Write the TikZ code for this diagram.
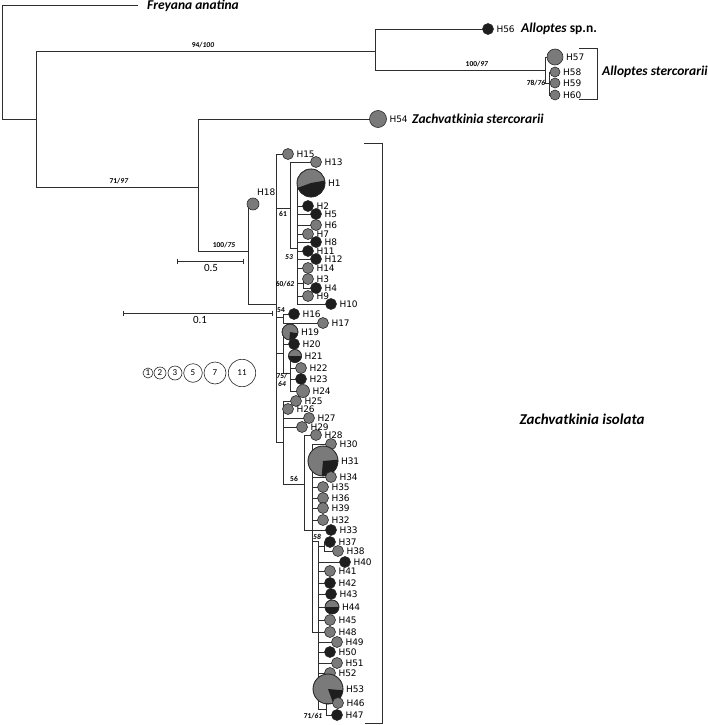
\documentclass[tikz,border=0pt]{standalone}
\usepackage{fontspec}
\setmainfont{Carlito}
\newfontfamily\hf{DejaVu Sans}
\definecolor{grayc}{HTML}{7A7A7A}
\definecolor{blackc}{HTML}{1E1E1E}
\definecolor{linec}{HTML}{2E2E2E}
\definecolor{circc}{HTML}{2A2A2A}
\tikzset{
  br/.style={draw=linec, line width=0.8pt},
  hapc/.style={circle, draw=circc, line width=0.6pt, inner sep=0pt},
  gr/.style={fill=grayc},
  bk/.style={fill=blackc},
  hlab/.style={font=\hf\fontsize{9}{10}\selectfont, inner sep=0pt, anchor=west},
  spl/.style={font=\bfseries\itshape\fontsize{13.5}{15}\selectfont, inner sep=0pt},
  sup/.style={font=\bfseries\fontsize{7.5}{8}\selectfont, inner sep=0pt},
  lg/.style={circle, draw=circc, line width=0.6pt, inner sep=0pt, fill=white, font=\fontsize{9}{10}\selectfont},
}
% name, attach-x, y, circle-x, radius, fill style, label
\newcommand\hap[7]{%
  \coordinate (#1-b) at (#2,#3);
  \coordinate (#1-c) at (#4,#3);
  \draw[br] (#1-b) -- (#1-c);
  \node[hapc,#6,minimum size={2*#5pt}] (#1) at (#1-c) {};
  \node[hlab] (#1-l) at ([xshift=2.5pt]#1.east) {#7};
}
% name, radius, start angle, end angle (black sector)
\newcommand\piesec[4]{%
  \fill[blackc] (#1.center) -- ++(#3:#2pt) arc[start angle=#3, end angle=#4, radius=#2pt] -- cycle;
  \draw[circc, line width=0.6pt] (#1.center) circle[radius=#2pt];
}
\begin{document}
\begin{tikzpicture}[x=1pt,y=-1pt]
\useasboundingbox (0,0) rectangle (708,725);
% ---------------- backbone
\coordinate (root-t) at (2,5);
\coordinate (root-b) at (2,119);
\coordinate (n1) at (36,119);
\coordinate (n1-t) at (36,51);
\coordinate (n1-b) at (36,187);
\coordinate (fre) at (138,5);
\draw[br] (fre) -- (root-t) -- (root-b) -- (n1);
\draw[br] (n1-t) -- (n1-b);
\node[spl, anchor=west] (fre-l) at (147,6) {Freyana anatina};
% ---------------- Alloptes
\coordinate (al) at (375,51);
\coordinate (al-t) at (375,29);
\coordinate (al-b) at (375,70);
\draw[br] (n1-t) -- (al);
\draw[br] (al-t) -- (al-b);
\node[sup] (s1) at (203,45) {94/\textit{100}};
\hap{h56}{375}{29}{488}{5.5}{bk}{H56}
\node[spl, anchor=west] (al1-l) at (521,29) {Alloptes \upshape sp.n.};
\coordinate (as) at (545,70);
\coordinate (as-t) at (545,57);
\coordinate (as-b) at (545,83);
\coordinate (as2) at (549,83);
\coordinate (as2-t) at (549,72);
\coordinate (as2-b) at (549,95);
\draw[br] (al-b) -- (as);
\draw[br] (as-t) -- (as-b) -- (as2);
\draw[br] (as2-t) -- (as2-b);
\node[sup] (s2) at (477,64) {100/\textit{97}};
\node[sup] (s3) at (536,83) {78/\textit{76}};
\hap{h57}{545}{57}{555}{8}{gr}{H57}
\hap{h58}{549}{72}{555}{5}{gr}{H58}
\hap{h59}{549}{83}{555}{5}{gr}{H59}
\hap{h60}{549}{95}{555}{5}{gr}{H60}
\coordinate (bra-a) at (579,48);
\coordinate (bra-b) at (597,48);
\coordinate (bra-c) at (597,99);
\coordinate (bra-d) at (579,99);
\draw[br] (bra-a) -- (bra-b) -- (bra-c) -- (bra-d);
\node[spl, anchor=west] (al2-l) at (602,72) {Alloptes stercorarii};
% ---------------- Zachvatkinia
\coordinate (z) at (198,187);
\coordinate (z-t) at (198,119);
\coordinate (z-b) at (198,251);
\draw[br] (n1-b) -- (z);
\draw[br] (z-t) -- (z-b);
\node[sup] (s4) at (119,181) {71/\textit{97}};
\hap{h54}{198}{119}{378}{8.5}{gr}{H54}
\node[spl, anchor=west] (zs-l) at (412,119) {Zachvatkinia stercorarii};
\coordinate (zi) at (248,251);
\coordinate (zi-t) at (248,204);
\coordinate (zi-b) at (248,304);
\draw[br] (z-b) -- (zi);
\draw[br] (zi-t) -- (zi-b);
\node[sup] (s5) at (224,245) {100/\textit{75}};
\node[hapc,gr,minimum size=12pt] (h18) at (253,204) {};
\node[hlab] (h18-l) at (257,192) {H18};
% main clade A
\coordinate (a) at (276,304);
\coordinate (a-t) at (276,154);
\coordinate (a-b) at (276,442);
\draw[br] (zi-b) -- (a);
\draw[br] (a-t) -- (a-b);
\hap{h15}{276}{154}{288}{5.5}{gr}{H15}
% node 61
\coordinate (c61) at (290,208);
\coordinate (c61-t) at (290,162);
\coordinate (c61-b) at (290,248);
\draw[br] (276,208) -- (c61);
\draw[br] (c61-t) -- (c61-b);
\node[sup] (s61) at (283,214) {61};
\hap{h13}{290}{162}{316}{5.5}{gr}{H13}
% node 53
\coordinate (c53) at (297,248);
\coordinate (c53-t) at (297,183);
\coordinate (c53-b) at (297,304);
\draw[br] (c61-b) -- (c53);
\draw[br] (c53-t) -- (c53-b);
\node[sup] (s53) at (289,257) {\itshape 53};
\hap{h1}{297}{183}{311}{14}{gr}{H1}
\piesec{h1}{14}{200}{370}
\hap{h2}{297}{206}{308}{5.5}{bk}{H2}
\hap{h5}{297}{214}{316}{5.5}{bk}{H5}
\hap{h6}{297}{225}{316}{5.5}{gr}{H6}
\hap{h7}{297}{234}{308}{5.5}{gr}{H7}
\hap{h8}{297}{242}{316}{5.5}{bk}{H8}
\hap{h11}{297}{251}{308}{5.5}{bk}{H11}
\hap{h12}{297}{259}{316}{5.5}{bk}{H12}
\hap{h14}{297}{268}{308}{5.5}{gr}{H14}
\coordinate (c60) at (303,283);
\coordinate (c60-t) at (303,279);
\coordinate (c60-b) at (303,288);
\draw[br] (297,283) -- (c60);
\draw[br] (c60-t) -- (c60-b);
\node[sup] (s60) at (285,284) {60/\textit{62}};
\hap{h3}{303}{279}{308}{5.5}{gr}{H3}
\hap{h4}{303}{288}{316}{5.5}{bk}{H4}
\hap{h9}{297}{296}{308}{5.5}{gr}{H9}
\hap{h10}{297}{304}{331}{5.5}{bk}{H10}
% node 54
\coordinate (c54) at (283,317);
\coordinate (c54-t) at (283,314);
\coordinate (c54-b) at (283,323);
\draw[br] (276,317) -- (c54);
\draw[br] (c54-t) -- (c54-b);
\node[sup] (s54) at (281,310) {54};
\hap{h16}{283}{314}{294}{5.5}{bk}{H16}
\hap{h17}{283}{323}{323}{5.5}{gr}{H17}
% node H19 group
\coordinate (c19) at (283,353);
\coordinate (c19-t) at (283,332);
\coordinate (c19-b) at (283,373);
\draw[br] (276,353) -- (c19);
\draw[br] (c19-t) -- (c19-b);
\hap{h19}{283}{332}{290}{8}{gr}{H19}
\piesec{h19}{8}{265}{350}
\hap{h20}{283}{344}{294}{5.5}{bk}{H20}
\coordinate (c75) at (290,373);
\coordinate (c75-t) at (290,356);
\coordinate (c75-b) at (290,391);
\draw[br] (c19-b) -- (c75);
\draw[br] (c75-t) -- (c75-b);
\node[sup, align=center, font=\bfseries\fontsize{7.5}{8}\selectfont] (s75) at (282,380) {75/\\\textit{64}};
\hap{h21}{290}{356}{295}{6.5}{gr}{H21}
\piesec{h21}{6.5}{180}{360}
\hap{h22}{290}{368}{301}{5.5}{gr}{H22}
\hap{h23}{290}{379}{301}{5.5}{bk}{H23}
\hap{h24}{290}{391}{303}{6.5}{gr}{H24}
% lower group
\coordinate (cl) at (283,442);
\coordinate (cl-t) at (283,401);
\coordinate (cl-b) at (283,484);
\draw[br] (a-b) -- (cl);
\draw[br] (cl-t) -- (cl-b);
\hap{h25}{283}{401}{296}{5.5}{gr}{H25}
\hap{h26}{283}{409}{288}{5.5}{gr}{H26}
\hap{h27}{283}{418}{309}{5.5}{gr}{H27}
\hap{h29}{283}{427}{302}{5.5}{gr}{H29}
% node 56
\coordinate (c56) at (304,484);
\coordinate (c56-t) at (304,435);
\coordinate (c56-b) at (304,530);
\draw[br] (cl-b) -- (c56);
\draw[br] (c56-t) -- (c56-b);
\node[sup] (s56) at (294,479) {56};
\hap{h28}{304}{435}{316}{5.5}{gr}{H28}
% clade B
\coordinate (cb) at (312,530);
\coordinate (cb-t) at (312,444);
\coordinate (cb-b) at (312,632);
\draw[br] (c56-b) -- (cb);
\draw[br] (cb-t) -- (cb-b);
\hap{h30}{312}{444}{331}{5.5}{gr}{H30}
\hap{h31}{312}{461}{323}{15}{gr}{H31}
\piesec{h31}{15}{265}{365}
\hap{h34}{312}{477}{331}{5.5}{gr}{H34}
\hap{h35}{312}{487}{323}{5.5}{gr}{H35}
\hap{h36}{312}{498}{323}{5.5}{gr}{H36}
\hap{h39}{312}{508}{323}{5.5}{gr}{H39}
\hap{h32}{312}{520}{323}{5.5}{gr}{H32}
\hap{h33}{312}{530}{331}{5.5}{bk}{H33}
% node 58
\coordinate (c58) at (318,541);
\coordinate (c58-b) at (318,709);
\draw[br] (312,541) -- (c58);
\draw[br] (c58) -- (c58-b);
\node[sup] (s58) at (317,537) {\itshape 58};
\coordinate (c37) at (324,546);
\coordinate (c37-t) at (324,542);
\coordinate (c37-b) at (324,551);
\draw[br] (318,546) -- (c37);
\draw[br] (c37-t) -- (c37-b);
\hap{h37}{324}{542}{330}{5.5}{bk}{H37}
\hap{h38}{324}{551}{338}{5.5}{gr}{H38}
\hap{h40}{318}{562}{345}{5.5}{bk}{H40}
\hap{h41}{318}{571}{330}{5.5}{gr}{H41}
\hap{h42}{318}{583}{330}{5.5}{bk}{H42}
\hap{h43}{318}{594}{331}{5.5}{bk}{H43}
\hap{h44}{318}{607}{332}{7}{gr}{H44}
\piesec{h44}{7}{180}{360}
\hap{h45}{318}{620}{330}{5.5}{gr}{H45}
\hap{h48}{312}{632}{330}{5.5}{gr}{H48}
\hap{h49}{318}{642}{337}{5.5}{gr}{H49}
\hap{h50}{318}{652}{330}{5.5}{bk}{H50}
\hap{h51}{318}{663}{337}{5.5}{gr}{H51}
\hap{h52}{318}{673}{330}{5.5}{gr}{H52}
\hap{h53}{318}{689}{328}{15}{gr}{H53}
\piesec{h53}{15}{290}{355}
\coordinate (c71) at (326,709);
\coordinate (c71-t) at (326,703);
\coordinate (c71-b) at (326,715);
\draw[br] (c58-b) -- (c71);
\draw[br] (c71-t) -- (c71-b);
\node[sup] (s71) at (313,716) {71/\textit{61}};
\hap{h46}{326}{703}{338}{5.5}{gr}{H46}
\hap{h47}{326}{715}{337}{5.5}{bk}{H47}
% bracket Z. isolata
\coordinate (bz-a) at (364,143);
\coordinate (bz-b) at (382,143);
\coordinate (bz-c) at (382,723);
\coordinate (bz-d) at (365,723);
\draw[br] (bz-a) -- (bz-b) -- (bz-c) -- (bz-d);
\node[spl, font=\bfseries\itshape\fontsize{15}{16}\selectfont] (zi-l) at (582,419) {Zachvatkinia isolata};
% ---------------- scale bars
\coordinate (sa1) at (177,261);
\coordinate (sa2) at (243,261);
\draw[br] (sa1) -- (sa2);
\draw[br] ([yshift=2.5pt]sa1) -- ([yshift=-2.5pt]sa1);
\draw[br] ([yshift=2.5pt]sa2) -- ([yshift=-2.5pt]sa2);
\node[font=\fontsize{11}{12}\selectfont, inner sep=0pt] (sa-l) at (211,268) {0.5};
\coordinate (sb1) at (123,313);
\coordinate (sb2) at (272,313);
\draw[br] (sb1) -- (sb2);
\draw[br] ([yshift=2.5pt]sb1) -- ([yshift=-2.5pt]sb1);
\draw[br] ([yshift=2.5pt]sb2) -- ([yshift=-2.5pt]sb2);
\node[font=\fontsize{11}{12}\selectfont, inner sep=0pt] (sb-l) at (200,320) {0.1};
% ---------------- legend
\node[lg, minimum size=10pt] (l1) at (148,373) {1};
\node[lg, minimum size=12pt] (l2) at (160,373) {2};
\node[lg, minimum size=14pt] (l3) at (175,373) {3};
\node[lg, minimum size=18.6pt] (l5) at (193,373) {5};
\node[lg, minimum size=22pt] (l7) at (215,373) {7};
\node[lg, minimum size=27.4pt] (l11) at (242,373) {11};
\end{tikzpicture}
\end{document}
